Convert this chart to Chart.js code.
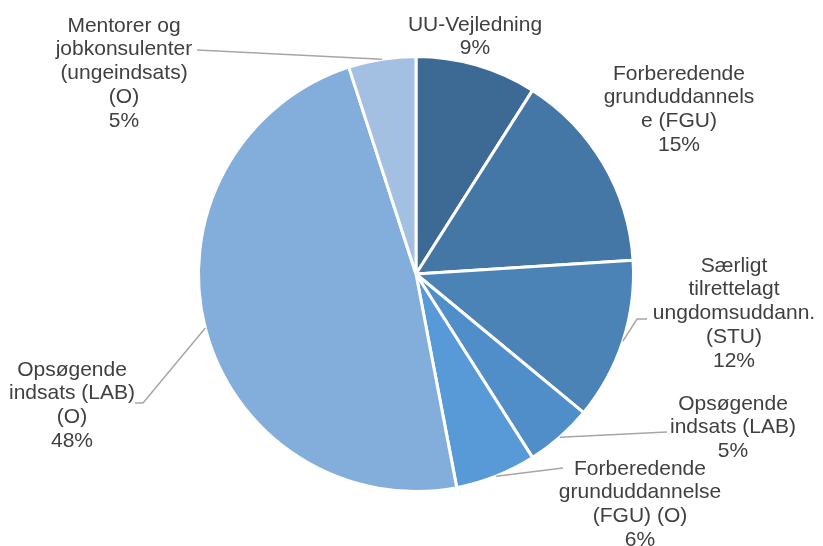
<!DOCTYPE html>
<html>
<head>
<meta charset="utf-8">
<script src="https://cdn.jsdelivr.net/npm/chart.js@4"></script>
<style>
  html, body { margin: 0; padding: 0; background: #fff; }
  #wrap { width: 823px; height: 546px; }
</style>
</head>
<body>
<div id="wrap"><canvas id="pie"></canvas></div>
<script>
// slices, clockwise from 12 o'clock
const categories = [
  'UU-Vejledning',
  'Forberedende grunduddannelse (FGU)',
  'Særligt tilrettelagt ungdomsuddann. (STU)',
  'Opsøgende indsats (LAB)',
  'Forberedende grunduddannelse (FGU) (O)',
  'Opsøgende indsats (LAB) (O)',
  'Mentorer og jobkonsulenter (ungeindsats) (O)'
];
const shares = [9, 15, 12, 5, 6, 48, 5];

// wrapped label text as shown on the chart
const labelLines = [
  ['UU-Vejledning'],
  ['Forberedende', 'grunduddannels', 'e (FGU)'],
  ['Særligt', 'tilrettelagt', 'ungdomsuddann.', '(STU)'],
  ['Opsøgende', 'indsats (LAB)'],
  ['Forberedende', 'grunduddannelse', '(FGU) (O)'],
  ['Opsøgende', 'indsats (LAB)', '(O)'],
  ['Mentorer og', 'jobkonsulenter', '(ungeindsats)', '(O)']
];

const sliceColors = ['#3C6A94', '#4577A6', '#4B83B7', '#4F8EC8', '#5899D7', '#83AEDB', '#A3BFE2'];

// where each label sits, and the bend points of its leader line
const labelPlace = [
  { x: 475, y: 25, lead: null },
  { x: 679, y: 74, lead: null },
  { x: 734, y: 266, lead: [[637, 319], [647, 319]] },
  { x: 733, y: 404, lead: [[667, 432]] },
  { x: 640, y: 469, lead: [[563, 468]] },
  { x: 72, y: 370, lead: [[143, 403], [135, 403]] },
  { x: 124, y: 26, lead: [[197, 50]] }
];

const pieLabels = {
  id: 'pieLabels',
  afterDatasetsDraw(chart) {
    const ctx = chart.ctx;
    const arcs = chart.getDatasetMeta(0).data;
    ctx.save();
    arcs.forEach((arc, i) => {
      const p = labelPlace[i];
      if (p.lead) {
        const mid = (arc.startAngle + arc.endAngle) / 2;
        ctx.beginPath();
        ctx.moveTo(arc.x + Math.cos(mid) * arc.outerRadius, arc.y + Math.sin(mid) * arc.outerRadius);
        p.lead.forEach(pt => ctx.lineTo(pt[0], pt[1]));
        ctx.strokeStyle = '#A6A6A6';
        ctx.lineWidth = 1.5;
        ctx.stroke();
      }
      const lines = labelLines[i].concat([shares[i] + '%']);
      ctx.fillStyle = '#404040';
      ctx.font = '21px "Liberation Sans", Arial, sans-serif';
      ctx.textAlign = 'center';
      ctx.textBaseline = 'middle';
      lines.forEach((t, k) => ctx.fillText(t, p.x, p.y + k * 23.7));
    });
    ctx.restore();
  }
};

new Chart(document.getElementById('pie'), {
  type: 'pie',
  data: {
    labels: categories,
    datasets: [{
      data: shares,
      backgroundColor: sliceColors,
      borderColor: '#ffffff',
      borderWidth: 3
    }]
  },
  options: {
    responsive: true,
    maintainAspectRatio: false,
    animation: false,
    layout: { padding: { top: 55, bottom: 53, left: 197, right: 188 } },
    plugins: {
      legend: { display: false },
      tooltip: { enabled: false }
    }
  },
  plugins: [pieLabels]
});
</script>
</body>
</html>
